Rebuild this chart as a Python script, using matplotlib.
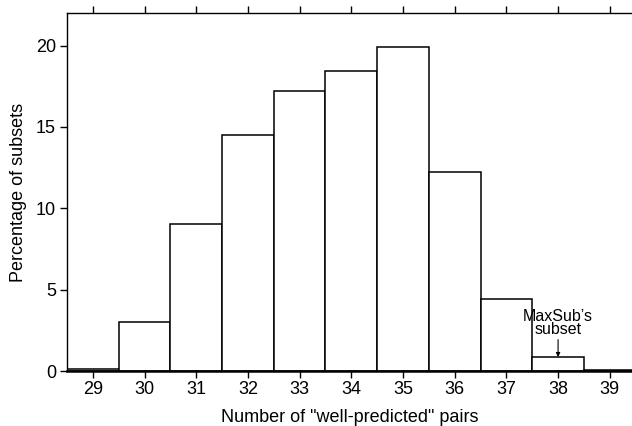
import matplotlib.pyplot as plt

plt.rcParams['font.family'] = ['Liberation Sans', 'DejaVu Sans']

pairs = [29, 30, 31, 32, 33, 34, 35, 36, 37, 38, 39]
percent = [0.15, 3.0, 9.05, 14.5, 17.18, 18.44, 19.94, 12.22, 4.42, 0.86, 0.06]
yticks = [0, 5, 10, 15, 20]

fig = plt.figure(figsize=(6.32, 4.26), dpi=100)
ax = fig.add_axes([0.106, 0.129, 0.894, 0.8405])

ax.bar(pairs, percent, width=1.0, color='white', edgecolor='black', linewidth=1.1)

ax.set_xlim(28.5, 39.43)
ax.set_ylim(0, 22)
ax.set_xticks(pairs)
ax.set_yticks(yticks)
ax.tick_params(axis='both', direction='out', length=5, width=1, labelsize=13)
ax.tick_params(axis='x', top=True, pad=2)
ax.tick_params(axis='y', pad=3)
ax.spines['right'].set_visible(False)
ax.spines['bottom'].set_linewidth(1.8)
ax.spines['left'].set_linewidth(1.0)
ax.spines['top'].set_linewidth(1.0)

ax.set_xlabel('Number of "well-predicted" pairs', fontsize=13, labelpad=8)
ax.set_ylabel('Percentage of subsets', fontsize=13, labelpad=6)

ax.annotate('MaxSub\u2019s\nsubset', xy=(38, percent[9]), xytext=(38, 2.1),
            ha='center', va='bottom', fontsize=11.5, linespacing=0.85,
            arrowprops=dict(arrowstyle='-|>', color='black', lw=0.8,
                            mutation_scale=6, shrinkA=0, shrinkB=0))

fig.savefig('out.png', dpi=100)
